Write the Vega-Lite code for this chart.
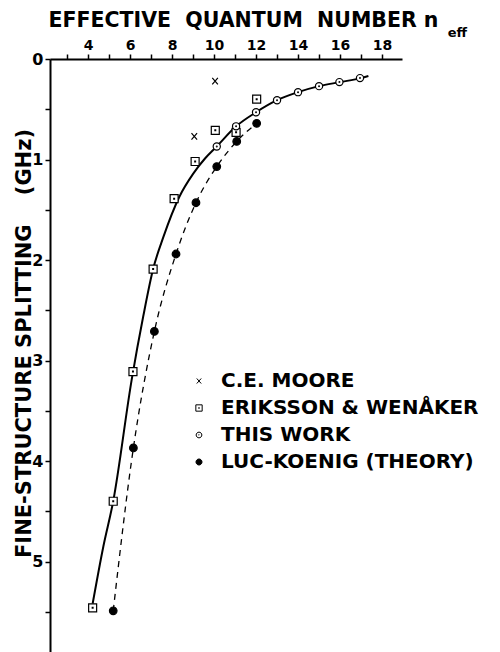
{
  "$schema": "https://vega.github.io/schema/vega-lite/v6.json",
  "width": 352,
  "height": 593,
  "autosize": "none",
  "padding": {"left": 50, "top": 59, "right": 98, "bottom": 0},
  "background": "white",
  "config": {
    "view": {"stroke": null},
    "font": "DejaVu Sans",
    "axis": {"labelFont": "DejaVu Sans", "titleFont": "DejaVu Sans", "labelColor": "black", "titleColor": "black", "domainColor": "black", "tickColor": "black", "grid": false},
    "legend": {"symbolStrokeColor": "black", "symbolStrokeWidth": 1}
  },
  "title": {
    "text": "eff",
    "anchor": "end",
    "frame": "group",
    "font": "DejaVu Sans",
    "fontSize": 13,
    "fontWeight": "bold",
    "color": "black",
    "dx": 65,
    "dy": 30,
    "offset": 0
  },
  "datasets": {
    "pts": [
      {"s": "C.E. MOORE", "n": 10.05, "ghz": 0.22},
      {"s": "C.E. MOORE", "n": 9.06, "ghz": 0.77},
      {"s": "ERIKSSON & WENÅKER", "n": 4.22, "ghz": 5.46},
      {"s": "ERIKSSON & WENÅKER", "n": 5.2, "ghz": 4.4},
      {"s": "ERIKSSON & WENÅKER", "n": 6.14, "ghz": 3.11},
      {"s": "ERIKSSON & WENÅKER", "n": 7.1, "ghz": 2.09},
      {"s": "ERIKSSON & WENÅKER", "n": 8.1, "ghz": 1.39},
      {"s": "ERIKSSON & WENÅKER", "n": 9.1, "ghz": 1.02},
      {"s": "ERIKSSON & WENÅKER", "n": 10.06, "ghz": 0.71},
      {"s": "ERIKSSON & WENÅKER", "n": 11.05, "ghz": 0.73},
      {"s": "ERIKSSON & WENÅKER", "n": 12.03, "ghz": 0.4},
      {"s": "THIS WORK", "n": 10.13, "ghz": 0.87},
      {"s": "THIS WORK", "n": 11.05, "ghz": 0.67},
      {"s": "THIS WORK", "n": 12.0, "ghz": 0.53},
      {"s": "THIS WORK", "n": 13.0, "ghz": 0.41},
      {"s": "THIS WORK", "n": 14.0, "ghz": 0.33},
      {"s": "THIS WORK", "n": 15.0, "ghz": 0.27},
      {"s": "THIS WORK", "n": 15.97, "ghz": 0.23},
      {"s": "THIS WORK", "n": 16.95, "ghz": 0.19},
      {"s": "LUC-KOENIG (THEORY)", "n": 5.2, "ghz": 5.49},
      {"s": "LUC-KOENIG (THEORY)", "n": 6.16, "ghz": 3.87},
      {"s": "LUC-KOENIG (THEORY)", "n": 7.16, "ghz": 2.71},
      {"s": "LUC-KOENIG (THEORY)", "n": 8.19, "ghz": 1.94},
      {"s": "LUC-KOENIG (THEORY)", "n": 9.14, "ghz": 1.43},
      {"s": "LUC-KOENIG (THEORY)", "n": 10.13, "ghz": 1.07},
      {"s": "LUC-KOENIG (THEORY)", "n": 11.08, "ghz": 0.82},
      {"s": "LUC-KOENIG (THEORY)", "n": 12.03, "ghz": 0.64}
    ],
    "curve": [
      {"n": 4.22, "ghz": 5.42},
      {"n": 4.73, "ghz": 4.85},
      {"n": 5.2, "ghz": 4.4},
      {"n": 6.08, "ghz": 3.19},
      {"n": 6.63, "ghz": 2.56},
      {"n": 7.1, "ghz": 2.09},
      {"n": 7.59, "ghz": 1.77},
      {"n": 8.35, "ghz": 1.37},
      {"n": 9.01, "ghz": 1.14},
      {"n": 9.57, "ghz": 0.99},
      {"n": 10.13, "ghz": 0.87},
      {"n": 11.05, "ghz": 0.67},
      {"n": 12.0, "ghz": 0.53},
      {"n": 13.0, "ghz": 0.41},
      {"n": 14.0, "ghz": 0.33},
      {"n": 15.0, "ghz": 0.27},
      {"n": 16.0, "ghz": 0.23},
      {"n": 17.0, "ghz": 0.19},
      {"n": 17.35, "ghz": 0.17}
    ]
  },
  "encoding": {
    "x": {
      "field": "n", "type": "quantitative",
      "scale": {"domain": [2.19, 18.95], "nice": false, "zero": false},
      "axis": {
        "orient": "top",
        "values": [3, 4, 5, 6, 7, 8, 9, 10, 11, 12, 13, 14, 15, 16, 17, 18],
        "labelExpr": "datum.value % 2 == 0 ? format(datum.value, 'd') : ''",
        "labelFontSize": 14,
        "labelFontWeight": "bold",
        "labelPadding": 2,
        "labelFlush": false,
        "labelOverlap": false,
        "labelColor": "black",
        "tickSize": 5,
        "tickWidth": 1.5,
        "domainWidth": 2,
        "title": "EFFECTIVE\u00a0\u00a0QUANTUM\u00a0\u00a0NUMBER\u00a0n",
        "titleFontSize": 20.5,
        "titleFontWeight": "bold",
        "titleAnchor": "start",
        "titleAlign": "left",
        "titleBaseline": "alphabetic",
        "titleX": -2,
        "titleY": -33
      }
    },
    "y": {
      "field": "ghz", "type": "quantitative",
      "scale": {"domain": [0, 5.9], "reverse": true, "nice": false, "zero": false},
      "axis": {
        "orient": "left",
        "values": [0, 0.5, 1, 1.5, 2, 2.5, 3, 3.5, 4, 4.5, 5, 5.5],
        "labelExpr": "datum.value % 1 == 0 ? format(datum.value, 'd') : ''",
        "labelFontSize": 16,
        "labelFontWeight": "bold",
        "labelPadding": 2,
        "labelFlush": false,
        "labelOverlap": false,
        "tickSize": 5,
        "tickWidth": 1.5,
        "domainWidth": 2,
        "title": "FINE-STRUCTURE SPLITTING\u00a0\u00a0\u00a0\u00a0(GHz)",
        "titleFontSize": 21,
        "titleFontWeight": "bold",
        "titleAngle": -90,
        "titleAlign": "center",
        "titleBaseline": "middle",
        "titleX": -26,
        "titleY": 284
      }
    }
  },
  "layer": [
    {
      "data": {"name": "curve"},
      "mark": {"type": "line", "interpolate": "monotone", "color": "black", "strokeWidth": 2}
    },
    {
      "data": {"name": "pts"},
      "transform": [{"filter": "datum.s === 'LUC-KOENIG (THEORY)'"}],
      "mark": {"type": "line", "interpolate": "monotone", "color": "black", "strokeWidth": 1.3, "strokeDash": [6, 5]}
    },
    {
      "data": {"name": "pts"},
      "mark": {"type": "point", "strokeWidth": 1.2, "opacity": 1, "size": 64},
      "encoding": {
        "shape": {
          "field": "s", "type": "nominal",
          "scale": {
            "domain": ["C.E. MOORE", "ERIKSSON & WENÅKER", "THIS WORK", "LUC-KOENIG (THEORY)"],
            "range": [
              "M-0.7,-0.8L0.7,0.8M-0.7,0.8L0.7,-0.8",
              "M-1,-1H1V1H-1Z M-0.1,-0.1H0.1V0.1H-0.1Z",
              "M-0.9,0A0.9,0.9 0 1,1 0.9,0A0.9,0.9 0 1,1 -0.9,0Z M-0.1,0A0.1,0.1 0 1,1 0.1,0A0.1,0.1 0 1,1 -0.1,0Z",
              "M-0.95,0A0.95,0.95 0 1,1 0.95,0A0.95,0.95 0 1,1 -0.95,0Z"
            ]
          },
          "legend": {
            "title": null,
            "orient": "none",
            "legendX": 139,
            "legendY": 312,
            "labelFont": "DejaVu Sans",
            "labelFontSize": 20,
            "labelFontWeight": "bold",
            "labelColor": "black",
            "labelOffset": 12,
            "labelLimit": 400,
            "rowPadding": 7,
            "symbolSize": 40,
            "symbolStrokeWidth": 1
          }
        },
        "fill": {
          "field": "s", "type": "nominal",
          "scale": {
            "domain": ["C.E. MOORE", "ERIKSSON & WENÅKER", "THIS WORK", "LUC-KOENIG (THEORY)"],
            "range": ["transparent", "white", "white", "black"]
          },
          "legend": {
            "title": null,
            "orient": "none",
            "legendX": 139,
            "legendY": 312,
            "labelFont": "DejaVu Sans",
            "labelFontSize": 20,
            "labelFontWeight": "bold",
            "labelColor": "black",
            "labelOffset": 12,
            "labelLimit": 400,
            "rowPadding": 7,
            "symbolSize": 40,
            "symbolStrokeWidth": 1
          }
        },
        "stroke": {
          "field": "s", "type": "nominal",
          "scale": {
            "domain": ["C.E. MOORE", "ERIKSSON & WENÅKER", "THIS WORK", "LUC-KOENIG (THEORY)"],
            "range": ["black", "black", "black", "black"]
          },
          "legend": {
            "title": null,
            "orient": "none",
            "legendX": 139,
            "legendY": 312,
            "labelFont": "DejaVu Sans",
            "labelFontSize": 20,
            "labelFontWeight": "bold",
            "labelColor": "black",
            "labelOffset": 12,
            "labelLimit": 400,
            "rowPadding": 7,
            "symbolSize": 40,
            "symbolStrokeWidth": 1
          }
        }
      }
    }
  ]
}
